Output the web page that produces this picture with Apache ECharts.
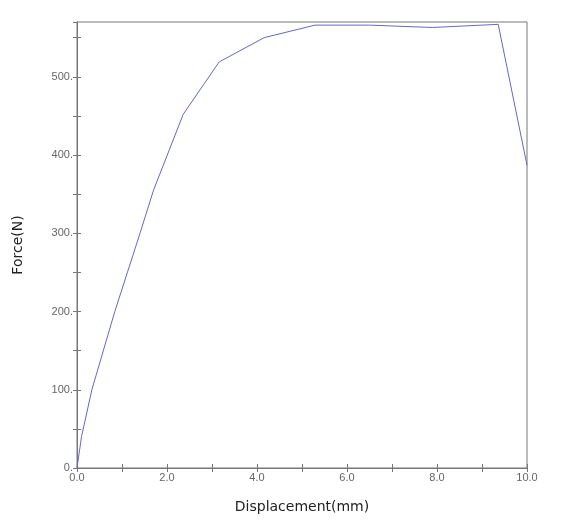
<!DOCTYPE html>
<html><head><meta charset="utf-8">
<script src="https://cdn.jsdelivr.net/npm/echarts@6/dist/echarts.min.js"></script>
<style>html,body{margin:0;background:#fff}#c{width:571px;height:528px}</style>
</head><body><div id="c"></div>
<script>
const displacement = [0, 0.1, 0.33, 0.84, 1.4, 1.7, 2.36, 3.16, 4.16, 5.29, 6.5, 7.9, 9.36, 10.0];
const force = [0, 40, 100, 200, 300, 355, 452, 519, 550, 566, 566, 563, 567, 387];
const xTitle = 'Displacement(mm)';
const yTitle = 'Force(N)';
const data = displacement.map((d, i) => [d, force[i]]);
const ax = {color: '#777'};
const chart = echarts.init(document.getElementById('c'));
const tick = {show: true, inside: true, length: 4, lineStyle: ax};
const common = {axisLine: {show: true, lineStyle: ax}, axisTick: tick, splitLine: {show: false}};
chart.setOption({
  animation: false,
  grid: {left: 77, right: 44, top: 22, bottom: 60, show: true, borderColor: '#777', borderWidth: 1},
  xAxis: [
    Object.assign({type: 'value', min: 0, max: 10, interval: 1, name: xTitle, nameLocation: 'middle', nameGap: 32,
     nameTextStyle: {color: '#222', fontSize: 14, fontFamily: 'DejaVu Sans'},
     axisLabel: {color: '#666', fontSize: 11, margin: 4, formatter: v => (v % 2 === 0 ? v.toFixed(1) : '')}}, common),
    Object.assign({type: 'value', position: 'top', min: 0, max: 10, interval: 1, axisLabel: {show: false}}, common)
  ],
  yAxis: [
    Object.assign({type: 'value', min: 0, max: 570, interval: 50, name: yTitle, nameLocation: 'middle', nameGap: 52,
     nameTextStyle: {color: '#222', fontSize: 14, fontFamily: 'DejaVu Sans'},
     axisLabel: {color: '#666', fontSize: 11, margin: 4, showMaxLabel: false, formatter: v => (v % 100 === 0 ? v + '.' : '')}}, common),
    Object.assign({type: 'value', position: 'right', min: 0, max: 570, interval: 50, axisLabel: {show: false}}, common)
  ],
  series: [{type: 'line', data: data, symbol: 'none', lineStyle: {color: '#6666cc', width: 1}}]
});
</script></body></html>
